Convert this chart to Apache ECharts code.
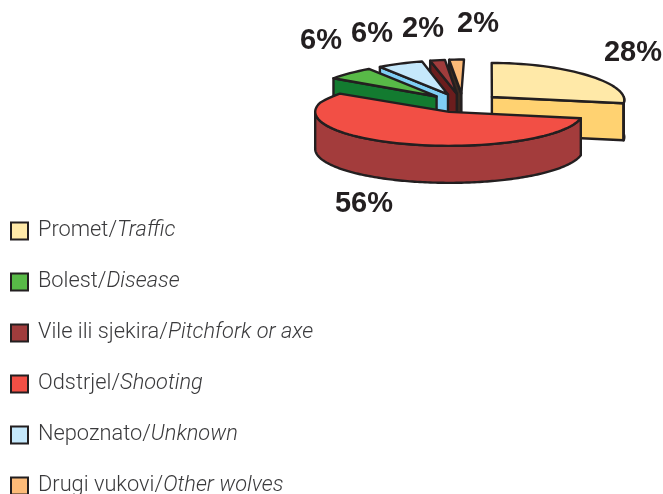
<!DOCTYPE html>
<html>
<head>
<meta charset="utf-8">
<style>
  html, body { margin: 0; padding: 0; background: #fff; }
  #chart { width: 663px; height: 494px; }
</style>
<script src="https://cdn.jsdelivr.net/npm/echarts@6/dist/echarts.min.js"></script>
</head>
<body>
<div id="chart"></div>
<script>
// legend order
var categories = [
  "Promet/Traffic",
  "Bolest/Disease",
  "Vile ili sjekira/Pitchfork or axe",
  "Odstrjel/Shooting",
  "Nepoznato/Unknown",
  "Drugi vukovi/Other wolves"
];
var percents = [28, 6, 2, 56, 6, 2];
// clockwise from 12 o'clock, as index into categories
var pieOrder = [0, 3, 1, 4, 2, 5];
// back slices first, so the big red one ends up on top
var drawOrder = [5, 2, 4, 1, 0, 3];

var topColors = ["#FFE9A8", "#58B947", "#A03C3C", "#F24F45", "#C5E8FB", "#FDBB78"];
var sideColors = ["#FFD271", "#137B30", "#6B1D1D", "#A33C3C", "#7FCFF5", "#3A2A20"];
var labelSpots = [[633, 53], [321, 41], [423, 29], [364, 204], [372, 34], [478, 24]];

var LINE = "#231F20";
var DEPTH = 37;
var EXPLODE = 0.28;
var PERSPECTIVE = 0.09;
var VANISH_X = 0.2;

// back of the pie is further away, so it gets a bit narrower
function project(x, y) {
  return [VANISH_X + (x - VANISH_X) * (1 - PERSPECTIVE * Math.max(0, y)), y];
}

function unitPoint(angle, cx, cy) {
  return project(cx + Math.sin(angle), cy + Math.cos(angle));
}

function renderSlice(idx) {
  return function (params, api) {
    var start = 0;
    for (var i = 0; i < pieOrder.length && pieOrder[i] !== idx; i++) {
      start += percents[pieOrder[i]];
    }
    var a0 = start / 100 * Math.PI * 2;
    var a1 = (start + percents[idx]) / 100 * Math.PI * 2;
    var mid = (a0 + a1) / 2;
    var cx = Math.sin(mid) * EXPLODE;
    var cy = Math.cos(mid) * EXPLODE;

    var apex = api.coord(project(cx, cy));
    var arc = [];
    var n = Math.max(2, Math.ceil((a1 - a0) / 0.05));
    for (var k = 0; k <= n; k++) {
      arc.push(api.coord(unitPoint(a0 + (a1 - a0) * k / n, cx, cy)));
    }
    function down(p) { return [p[0], p[1] + DEPTH]; }
    function poly(points, fill) {
      return {
        type: "polygon",
        shape: { points: points },
        style: { fill: fill, stroke: LINE, lineWidth: 2.4, lineJoin: "round" }
      };
    }

    var children = [];
    // radial cut faces that look towards the viewer
    if (Math.sin(a0) < 0) {
      children.push(poly([apex, arc[0], down(arc[0]), down(apex)], sideColors[idx]));
    }
    if (Math.sin(a1) > 0) {
      var last = arc[arc.length - 1];
      children.push(poly([apex, last, down(last), down(apex)], sideColors[idx]));
    }
    // outer wall, only the front half of the rim
    var rim = [];
    for (var m = 0; m <= 180; m++) {
      var a = a0 + (a1 - a0) * m / 180;
      if (Math.cos(a) < 0) rim.push(api.coord(unitPoint(a, cx, cy)));
    }
    if (rim.length > 1) {
      children.push(poly(rim.concat(rim.map(down).reverse()), idx === 0 ? LINE : sideColors[idx]));
    }
    children.push(poly([apex].concat(arc), topColors[idx]));
    children.push({
      type: "text",
      style: {
        text: percents[idx] + "%",
        x: labelSpots[idx][0],
        y: labelSpots[idx][1],
        align: "center",
        verticalAlign: "middle",
        fontFamily: "Liberation Sans",
        fontWeight: "bold",
        fontSize: 29,
        fill: LINE
      }
    });
    return { type: "group", children: children };
  };
}

var chart = echarts.init(document.getElementById("chart"));
chart.setOption({
  animation: false,
  grid: { left: 329, top: 69, width: 268, height: 68 },
  xAxis: { type: "value", min: -1, max: 1, show: false },
  yAxis: { type: "value", min: -1, max: 1, show: false },
  legend: {
    data: categories,
    orient: "vertical",
    left: 10,
    top: 220,
    height: 400,
    padding: 0,
    icon: "rect",
    itemWidth: 17,
    itemHeight: 17,
    itemGap: 29,
    selectedMode: false,
    formatter: function (name) {
      var parts = name.split("/");
      return "{re|" + parts[0] + "/}{it|" + parts[1] + "}";
    },
    textStyle: {
      fontFamily: "Roboto",
      fontWeight: 300,
      fontSize: 21.8,
      color: "#3A3A3C",
      rich: {
        re: { fontFamily: "Roboto", fontWeight: 300, fontSize: 21.8, color: "#3A3A3C", padding: [0, 0, 0, 5] },
        it: { fontFamily: "Roboto", fontWeight: 300, fontStyle: "italic", fontSize: 21.8, color: "#3A3A3C" }
      }
    }
  },
  series: drawOrder.map(function (idx) {
    return {
      type: "custom",
      name: categories[idx],
      data: [[percents[idx]]],
      encode: { x: 0 },
      itemStyle: { color: topColors[idx], borderColor: LINE, borderWidth: 2 },
      renderItem: renderSlice(idx)
    };
  })
});
</script>
</body>
</html>
